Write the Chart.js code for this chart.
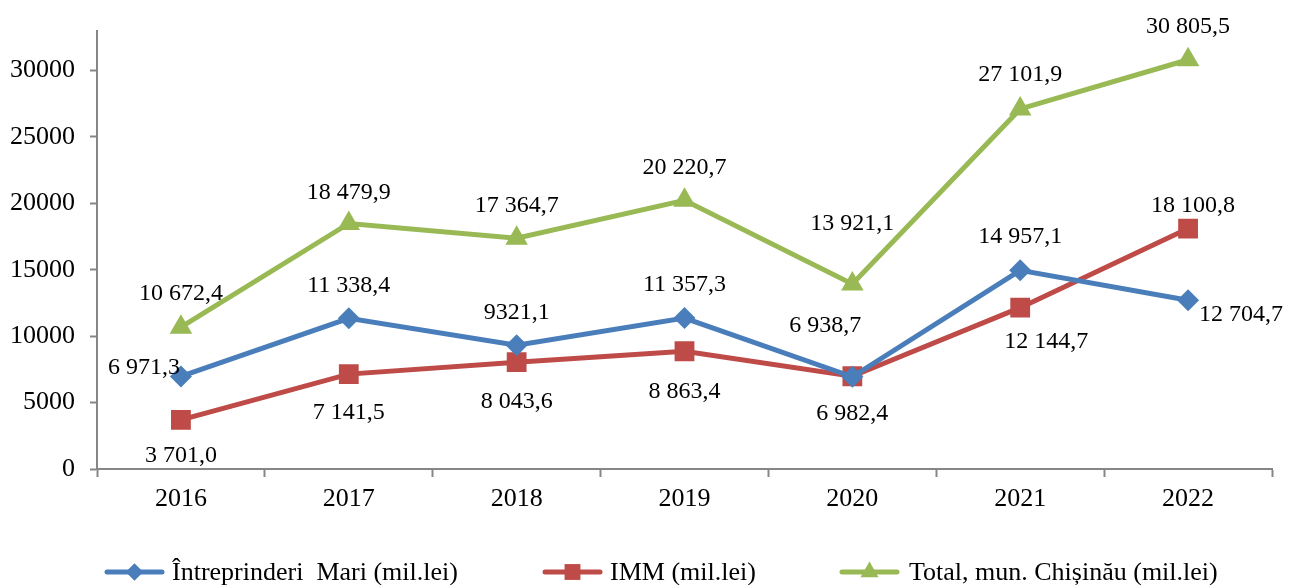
<!DOCTYPE html>
<html lang="ro">
<head>
    <meta charset="UTF-8">
    <title>Întreprinderi Mari și IMM, mun. Chișinău</title>
    <script src="https://cdn.jsdelivr.net/npm/chart.js"></script>
    <style>
        body { margin: 0; background: #fff; }
        .chart-container { width: 1295px; height: 585px; }
    </style>
</head>
<body>
    <div class="chart-container">
        <canvas id="mainChart"></canvas>
    </div>

    <script>
        // Data
        const years = ["2016", "2017", "2018", "2019", "2020", "2021", "2022"];
        const mari = [6971.3, 11338.4, 9321.1, 11357.3, 6938.7, 14957.1, 12704.7];
        const imm = [3701.0, 7141.5, 8043.6, 8863.4, 6982.4, 12144.7, 18100.8];
        const total = [10672.4, 18479.9, 17364.7, 20220.7, 13921.1, 27101.9, 30805.5];
        const mariText = ["6 971,3", "11 338,4", "9321,1", "11 357,3", "6 938,7", "14 957,1", "12 704,7"];
        const immText = ["3 701,0", "7 141,5", "8 043,6", "8 863,4", "6 982,4", "12 144,7", "18 100,8"];
        const totalText = ["10 672,4", "18 479,9", "17 364,7", "20 220,7", "13 921,1", "27 101,9", "30 805,5"];
        const yTicks = [0, 5000, 10000, 15000, 20000, 25000, 30000];
        const seriesNames = ["Întreprinderi  Mari (mil.lei)", "IMM (mil.lei)", "Total, mun. Chișinău (mil.lei)"];

        const FONT = "Liberation Serif";
        const colors = ["#4A7EBB", "#BE4B48", "#98B954"];

        // label offsets from the point (dx, dy)
        const labelOffsets = [
            [[-37, -9], [0, -33], [0, -32], [0, -33], [-27, -51], [0, -34], [53, 14]],
            [[0, 36], [0, 39], [0, 40], [0, 40], [0, 37], [26, 34], [5, -23]],
            [[0, -34], [0, -31], [0, -33], [0, -33], [0, -60], [0, -34], [0, -33]]
        ];
        const labelTexts = [mariText, immText, totalText];

        const valueLabels = {
            id: "valueLabels",
            afterDatasetsDraw(chart) {
                const ctx = chart.ctx;
                ctx.save();
                ctx.font = "24px '" + FONT + "'";
                ctx.fillStyle = "#000";
                ctx.textAlign = "center";
                ctx.textBaseline = "middle";
                chart.data.datasets.forEach((ds, i) => {
                    chart.getDatasetMeta(i).data.forEach((pt, j) => {
                        const off = labelOffsets[i][j];
                        ctx.fillText(labelTexts[i][j], pt.x + off[0], pt.y + off[1]);
                    });
                });
                ctx.restore();
            }
        };

        // legend drawn at the bottom: line start, line end, text start
        const legendPos = [[107, 162, 172], [545, 600, 610], [842, 897, 909]];
        const legendY = 572;
        const bottomLegend = {
            id: "bottomLegend",
            afterDraw(chart) {
                const ctx = chart.ctx;
                ctx.save();
                chart.data.datasets.forEach((ds, i) => {
                    const p = legendPos[i];
                    ctx.strokeStyle = ds.borderColor;
                    ctx.lineWidth = 5;
                    ctx.lineCap = "round";
                    ctx.beginPath();
                    ctx.moveTo(p[0], legendY);
                    ctx.lineTo(p[1], legendY);
                    ctx.stroke();
                    ctx.fillStyle = ds.borderColor;
                    Chart.helpers.drawPoint(ctx, {
                        pointStyle: ds.pointStyle,
                        radius: ds.pointRadius * 0.8,
                        borderWidth: 0
                    }, (p[0] + p[1]) / 2, legendY);
                    ctx.fillStyle = "#000";
                    ctx.font = "26px '" + FONT + "'";
                    ctx.textAlign = "left";
                    ctx.textBaseline = "middle";
                    ctx.fillText(ds.label, p[2], legendY + 1);
                });
                ctx.restore();
            }
        };

        function makeSet(label, data, color, style, radius) {
            return {
                label: label,
                data: data,
                borderColor: color,
                backgroundColor: color,
                borderWidth: 5,
                pointStyle: style,
                pointRadius: radius,
                pointHoverRadius: radius,
                pointBorderWidth: 0,
                tension: 0
            };
        }

        const ctx = document.getElementById("mainChart").getContext("2d");
        new Chart(ctx, {
            type: "line",
            data: {
                labels: years,
                datasets: [
                    makeSet(seriesNames[0], mari, colors[0], "rectRot", 11),
                    makeSet(seriesNames[1], imm, colors[1], "rect", 14),
                    makeSet(seriesNames[2], total, colors[2], "triangle", 13)
                ]
            },
            options: {
                responsive: true,
                maintainAspectRatio: false,
                animation: false,
                layout: { padding: { top: 30, right: 23, left: 0, bottom: 0 } },
                plugins: {
                    legend: { display: false },
                    tooltip: { enabled: false }
                },
                scales: {
                    x: {
                        offset: true,
                        grid: {
                            offset: true,
                            drawOnChartArea: false,
                            drawTicks: true,
                            tickLength: 8,
                            color: "#868686",
                            tickWidth: 2
                        },
                        border: { color: "#868686", width: 2 },
                        ticks: {
                            color: "#000",
                            font: { family: FONT, size: 26 },
                            padding: 7
                        },
                        afterFit(scale) { scale.height = 116; }
                    },
                    y: {
                        min: 0,
                        max: 33000,
                        grid: {
                            drawOnChartArea: false,
                            tickLength: 7,
                            color: "#868686",
                            tickWidth: 2
                        },
                        border: { color: "#868686", width: 2 },
                        ticks: {
                            color: "#000",
                            font: { family: FONT, size: 26 },
                            padding: 15,
                            callback: v => String(v)
                        },
                        afterBuildTicks(scale) {
                            scale.ticks = yTicks.map(v => ({ value: v }));
                        },
                        afterFit(scale) { scale.width = 97; }
                    }
                }
            },
            plugins: [valueLabels, bottomLegend]
        });
    </script>
</body>
</html>
